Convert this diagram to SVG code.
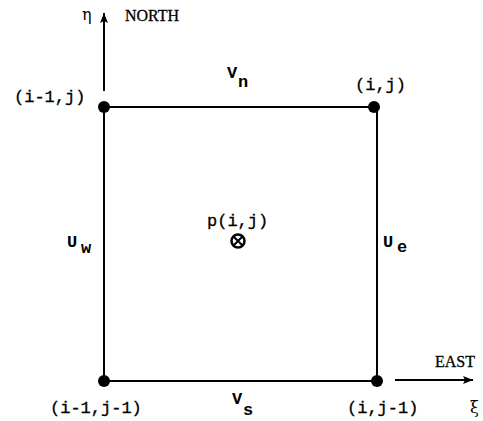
<svg xmlns="http://www.w3.org/2000/svg" width="483" height="421" viewBox="0 0 483 421">
<defs>
<marker id="ah" viewBox="0 0 10 8" refX="10" refY="4" markerWidth="10" markerHeight="8" markerUnits="userSpaceOnUse" orient="auto">
<path d="M0,0 L10,4 L0,8 L2,4 Z" fill="#000"/>
</marker>
</defs>
<style>
.ln{stroke:#000;stroke-width:2;fill:none}
.dot{fill:#000}
.lbl{font-family:"Liberation Mono","DejaVu Sans Mono",monospace;font-size:17px;fill:#000;stroke:#000;stroke-width:0.3}
.sym{font-family:"Liberation Mono","DejaVu Sans Mono",monospace;font-size:17px;font-weight:bold;fill:#000}
.cap{font-family:"Liberation Serif","DejaVu Serif",serif;font-size:16px;fill:#000;stroke:#000;stroke-width:0.3}
.gr{font-family:"DejaVu Serif","Liberation Serif",serif;font-size:16px;fill:#000}
</style>
<rect width="483" height="421" fill="#fff"/>
<g id="connectors">
<line class="ln" x1="104" y1="107" x2="377" y2="107"/>
<line class="ln" x1="104" y1="107" x2="104" y2="381"/>
<line class="ln" x1="377" y1="107" x2="377" y2="381"/>
<line class="ln" x1="104" y1="381" x2="377" y2="381"/>
<line class="ln" x1="104" y1="91" x2="104" y2="13" marker-end="url(#ah)"/>
<line class="ln" x1="395" y1="380" x2="473" y2="380" marker-end="url(#ah)"/>
</g>
<g id="axis-north">
<text class="gr" x="82" y="20">η</text>
<text class="cap" x="125" y="21">NORTH</text>
</g>
<g id="axis-east">
<text class="cap" x="435" y="367">EAST</text>
<text class="gr" x="470" y="413">ξ</text>
</g>
<g id="node-i-1-j">
<circle class="dot" cx="104" cy="107" r="6"/>
<text class="lbl" x="14" y="102">(i-1,j)</text>
</g>
<g id="node-i-j">
<circle class="dot" cx="374" cy="107" r="6"/>
<text class="lbl" x="355" y="90">(i,j)</text>
</g>
<g id="node-i-1-j-1">
<circle class="dot" cx="104" cy="381" r="6"/>
<text class="lbl" x="50" y="413">(i-1,j-1)</text>
</g>
<g id="node-i-j-1">
<circle class="dot" cx="377" cy="381" r="6"/>
<text class="lbl" x="347" y="413">(i,j-1)</text>
</g>
<g id="label-vn">
<text class="sym" x="227" y="78">V</text>
<text class="sym" x="238" y="87">n</text>
</g>
<g id="label-vs">
<text class="sym" x="232" y="404">V</text>
<text class="sym" x="243" y="415">s</text>
</g>
<g id="label-uw">
<text class="sym" x="67" y="247">U</text>
<text class="sym" x="81" y="253">w</text>
</g>
<g id="label-ue">
<text class="sym" x="383" y="247">U</text>
<text class="sym" x="397" y="252">e</text>
</g>
<g id="node-p">
<text class="lbl" x="207" y="226">p(i,j)</text>
<circle cx="238" cy="241" r="6.5" fill="none" stroke="#000" stroke-width="2.5"/>
<path d="M233.5,236.5 L242.5,245.5 M242.5,236.5 L233.5,245.5" stroke="#000" stroke-width="2"/>
</g>
</svg>
